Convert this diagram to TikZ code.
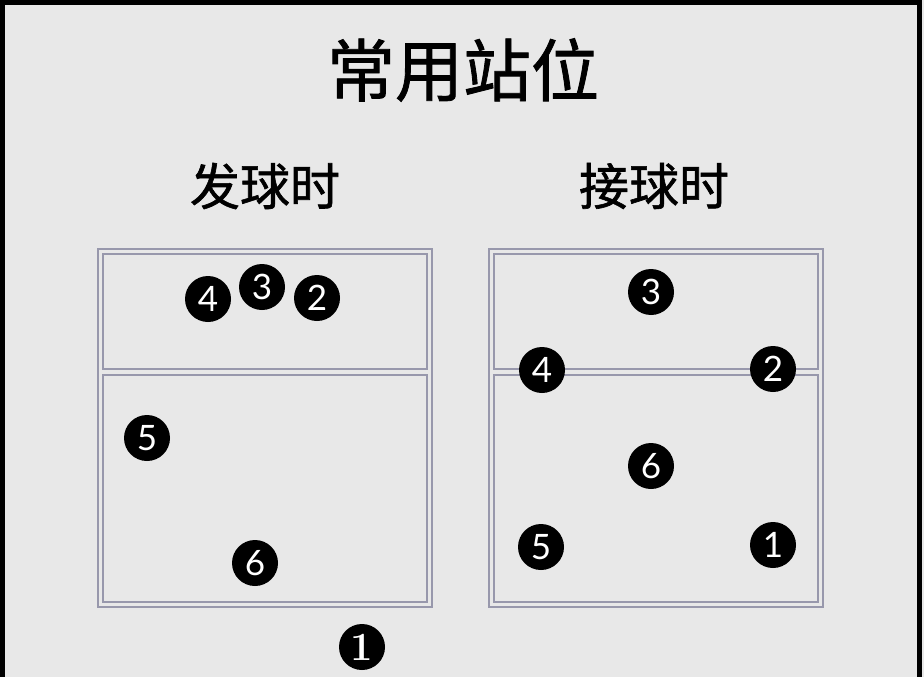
\documentclass[tikz,border=0pt]{standalone}
\usepackage{fontspec}
\usepackage{xcolor}
\usepackage{tikz}
\setsansfont{Lato}
\newfontfamily\cjk[FakeBold=1.2]{Noto Sans CJK SC}
\definecolor{paper}{HTML}{E8E8E8}
\definecolor{courtline}{HTML}{9898AC}

\begin{document}
\begin{tikzpicture}[x=1pt,y=-1pt,
    player/.style={circle,fill=black,minimum size=46pt,inner sep=0pt,text=white,
      font=\sffamily\fontsize{35}{35}\selectfont},
    court/.style={courtline,line width=1.3pt}]
      \fill[paper] (0,0) rectangle (924,677);
      \useasboundingbox (0,0) rectangle (924,677);
      \draw[black,line width=5pt] (2.5,677) -- (2.5,2.5) -- (919,2.5) -- (919,677);
      % titles
      \node (title) at (463,70) {\cjk\fontsize{68}{68}\selectfont 常用站位};
      \node (serve) at (265,186) {\cjk\fontsize{50}{50}\selectfont 发球时};
      \node (receive) at (654,186) {\cjk\fontsize{50}{50}\selectfont 接球时};
      % courts
      \foreach \cx in {98,489} {
        \draw[court] (\cx,249) rectangle ++(334,358);
        \draw[court] (\cx+5,254) rectangle ++(324,115);
        \draw[court] (\cx+5,375) rectangle ++(324,227);
      }
      % serving
      \node[player] (s4) at (208,299) {4};
      \node[player] (s3) at (262,287) {3};
      \node[player] (s2) at (317,298) {2};
      \node[player] (s5) at (147,438) {5};
      \node[player] (s6) at (255,563) {6};
      \node[player,font=\rmfamily\bfseries\fontsize{40}{40}\selectfont] (s1) at (362,647) {1};
      % receiving
      \node[player] (r3) at (651,292) {3};
      \node[player] (r4) at (542,370) {4};
      \node[player] (r2) at (773,369) {2};
      \node[player] (r6) at (651,466) {6};
      \node[player] (r5) at (541,547) {5};
      \node[player] (r1) at (773,545) {1};
    \end{tikzpicture}
\end{document}
